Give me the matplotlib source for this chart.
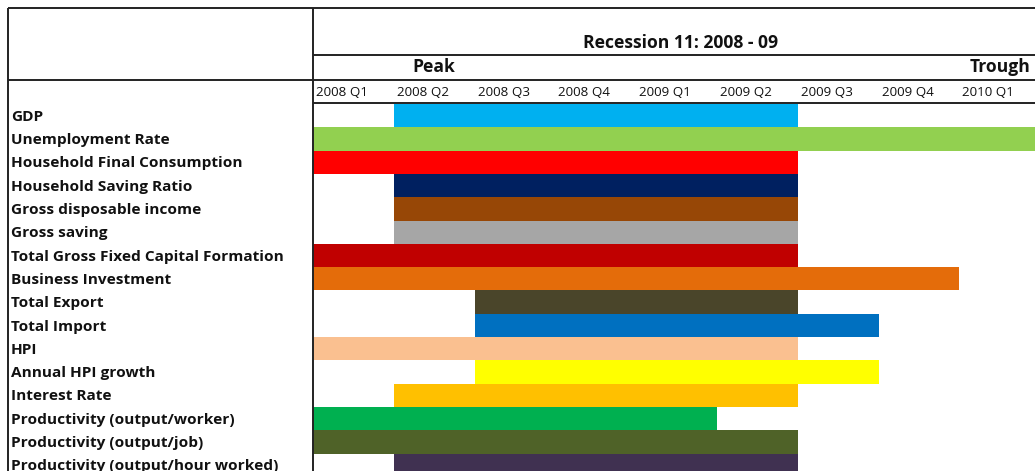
import matplotlib
matplotlib.use("Agg")
import matplotlib.pyplot as plt

# Indicators and the quarters over which each one was in recession
indicators = [
    "GDP", "Unemployment Rate", "Household Final Consumption",
    "Household Saving Ratio", "Gross disposable income", "Gross saving",
    "Total Gross Fixed Capital Formation", "Business Investment",
    "Total Export", "Total Import", "HPI", "Annual HPI growth",
    "Interest Rate", "Productivity (output/worker)",
    "Productivity (output/job)", "Productivity (output/hour worked)",
]
quarters = ["2008 Q1", "2008 Q2", "2008 Q3", "2008 Q4", "2009 Q1",
            "2009 Q2", "2009 Q3", "2009 Q4", "2010 Q1"]
# start quarter index and end quarter index (exclusive)
start_q = [1, 0, 0, 1, 1, 1, 0, 0, 2, 2, 0, 2, 1, 0, 0, 1]
end_q = [6, 10, 6, 6, 6, 6, 6, 8, 6, 7, 6, 7, 6, 5, 6, 6]
colors = ["#00B0F0", "#92D050", "#FF0000", "#002060", "#974706", "#A6A6A6",
          "#C00000", "#E46C0A", "#4A452A", "#0070C0", "#FAC090", "#FFFF00",
          "#FFC000", "#00B050", "#4F6228", "#403151"]
title = "Recession 11: 2008 - 09"
peak_label, trough_label = "Peak", "Trough"
peak_q, trough_q = 1, 8

W, H = 1035, 471
COL_W = 80.8      # pixels per quarter column
ROW_H = 23.3      # pixels per indicator row
X0, Y0 = 313, 104  # pixel origin of the bar grid
FAM = ["Open Sans", "DejaVu Sans"]

fig = plt.figure(figsize=(W / 100, H / 100), dpi=100)
ax = fig.add_axes([0, 0, 1, 1])
ax.set_xlim(-X0 / COL_W, (W - X0) / COL_W)
ax.set_ylim((H - Y0) / ROW_H, -Y0 / ROW_H)
ax.axis("off")


def px(x):
    return (x - X0) / COL_W


def py(y):
    return (y - Y0) / ROW_H


rows = list(range(len(indicators)))
ax.barh([r + 0.5 for r in rows], [e - s for s, e in zip(start_q, end_q)],
        left=start_q, height=1.0, color=colors, edgecolor="none", zorder=2)

for r, name in zip(rows, indicators):
    ax.text(px(11), r + 0.55, name, ha="left", va="center", family=FAM,
            fontweight="bold", fontsize=11.1, color="#111111")

for i, q in enumerate(quarters):
    ax.text(i + 3 / COL_W, py(92), q, ha="left", va="center",
            family=FAM, fontsize=9.6, color="#111111")

ax.text(px(681), py(43), title, ha="center", va="center", family=FAM,
        fontweight="bold", fontsize=12.6, color="#111111")
ax.text(peak_q + 0.5, py(67), peak_label, ha="center", va="center",
        family=FAM, fontweight="bold", fontsize=12.6, color="#111111")
ax.text(px(970), py(67), trough_label, ha="left", va="center",
        family=FAM, fontweight="bold", fontsize=12.6, color="#111111")

# table rules
lc = dict(color="#222222", lw=1.4, zorder=3, solid_capstyle="butt")
ax.plot([px(8), px(W + 5)], [py(8), py(8)], **lc)
ax.plot([px(313), px(W + 5)], [py(55), py(55)], **lc)
ax.plot([px(8), px(W + 5)], [py(80), py(80)], **lc)
ax.plot([px(313), px(W + 5)], [py(103), py(103)], **lc)
ax.plot([px(8), px(8)], [py(8), py(H + 5)], **lc)
ax.plot([px(313), px(313)], [py(8), py(H + 5)], **lc)

fig.savefig("out.png", dpi=100, facecolor="white")
